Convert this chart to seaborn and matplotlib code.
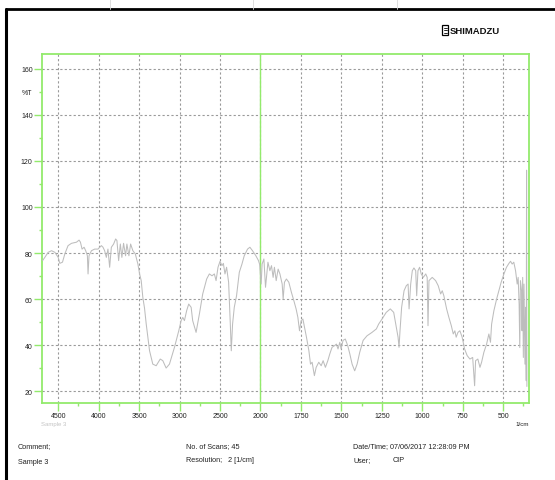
import numpy as np
import pandas as pd
import matplotlib
matplotlib.use("Agg")
import matplotlib.pyplot as plt
import seaborn as sns
from matplotlib.ticker import FixedLocator, FixedFormatter
from matplotlib.patches import Rectangle
from matplotlib.lines import Line2D

# ---------------- data ----------------
wavenumber = [
    4693, 4665, 4624, 4582, 4541, 4500, 4480, 4447, 4418, 4378, 4336, 4274, 4242, 4225,
    4205, 4180, 4160, 4139, 4131, 4119, 4089, 4049, 4008, 3987, 3966, 3946, 3926, 3905,
    3885, 3864, 3843, 3815, 3790, 3774, 3753, 3732, 3713, 3692, 3667, 3651, 3626, 3605,
    3577, 3547, 3515, 3494, 3474, 3454, 3433, 3412, 3371, 3331, 3289, 3239, 3207, 3166,
    3125, 3063, 3010, 2981, 2960, 2940, 2912, 2887, 2857, 2838, 2796, 2755, 2714, 2665,
    2632, 2599, 2570, 2549, 2525, 2500, 2476, 2459, 2439, 2419, 2394, 2373, 2361, 2345,
    2324, 2296, 2262, 2229, 2201, 2160, 2131, 2099, 2057, 2025, 2010, 2004, 1996, 1990,
    1979, 1969, 1954, 1942, 1932, 1922, 1914, 1903, 1891, 1880, 1866, 1860, 1852, 1840,
    1825, 1809, 1794, 1780, 1769, 1759, 1749, 1738, 1728, 1716, 1701, 1691, 1681, 1667,
    1656, 1640, 1625, 1613, 1599, 1584, 1572, 1558, 1543, 1531, 1521, 1510, 1502, 1490,
    1476, 1461, 1448, 1434, 1418, 1403, 1387, 1366, 1342, 1311, 1284, 1270, 1249, 1223,
    1198, 1177, 1161, 1150, 1144, 1138, 1128, 1113, 1099, 1088, 1082, 1072, 1062, 1052,
    1041, 1035, 1027, 1017, 1007, 994, 979, 970, 965, 959, 939, 918, 902, 887,
    877, 867, 850, 836, 821, 809, 799, 791, 780, 768, 754, 739, 723, 706,
    689, 677, 671, 657, 644, 634, 620, 603, 589, 579, 572, 558, 541, 527,
    513, 496, 480, 465, 455, 445, 435, 424, 414, 408, 402, 398, 394, 387,
    384, 380, 376, 372, 366, 362, 358, 356, 354,
]
transmittance = [
    76.7, 78.1, 80.3, 81.0, 80.3, 78.1, 75.5, 76.0, 79.6, 83.2, 84.2, 84.7, 85.6, 84.7,
    81.7, 82.5, 81.0, 78.8, 70.9, 78.8, 81.0, 81.7, 81.7, 82.5, 83.2, 82.5, 81.0, 78.1,
    81.7, 73.8, 82.5, 83.9, 86.1, 85.4, 76.7, 83.9, 78.1, 84.2, 78.8, 83.9, 78.8, 83.9,
    81.0, 79.6, 75.2, 70.9, 68.0, 60.7, 56.0, 49.1, 37.5, 31.7, 31.0, 33.9, 33.2, 30.0,
    31.7, 39.0, 46.2, 50.6, 52.0, 50.6, 55.0, 57.8, 56.4, 50.6, 45.5, 53.5, 62.2, 68.7,
    70.9, 70.1, 70.9, 68.0, 73.8, 76.4, 74.5, 75.5, 70.9, 73.8, 67.3, 49.1, 37.5, 49.1,
    56.4, 61.4, 71.6, 75.2, 78.8, 81.7, 82.5, 81.0, 78.8, 76.7, 75.0, 72.3, 66.5, 75.2,
    77.4, 65.1, 76.0, 72.3, 74.5, 69.4, 73.8, 68.0, 73.0, 70.9, 66.5, 60.0, 67.3, 68.7,
    67.3, 62.9, 59.3, 55.7, 52.0, 46.2, 50.6, 51.3, 47.7, 43.4, 37.5, 31.7, 32.5, 26.7,
    30.3, 32.5, 31.0, 33.2, 30.3, 33.2, 36.1, 39.0, 39.7, 40.4, 38.3, 41.2, 38.3, 42.0,
    42.6, 39.7, 36.1, 31.7, 28.8, 31.7, 36.8, 42.0, 44.0, 45.5, 47.0, 49.1, 51.3, 54.2,
    55.7, 54.2, 47.7, 43.4, 39.0, 46.2, 56.4, 63.6, 65.8, 66.5, 55.7, 66.5, 72.3, 73.5,
    72.3, 61.4, 72.3, 73.8, 70.9, 69.4, 70.9, 69.4, 48.4, 68.0, 69.4, 68.0, 65.8, 62.2,
    63.6, 61.4, 55.7, 52.0, 48.4, 44.8, 46.2, 43.4, 45.5, 46.2, 43.4, 38.3, 35.4, 33.9,
    34.6, 22.3, 33.2, 33.9, 30.3, 32.5, 36.8, 40.4, 44.8, 41.2, 49.1, 54.9, 60.0, 63.6,
    67.3, 70.9, 73.8, 75.5, 76.4, 75.2, 76.0, 72.3, 66.5, 69.4, 57.8, 38.9, 68.0, 63.6,
    46.2, 69.4, 34.6, 66.5, 31.7, 56.4, 24.5, 116.0, 22.0,
]

x_major = [4500, 4000, 3500, 3000, 2500, 2000, 1750, 1500, 1250, 1000, 750, 500]
x_minor = [4250, 3750, 3250, 2750, 2250, 1875, 1625, 1375, 1125, 875, 625, 375]
y_major = [20, 40, 60, 80, 100, 120, 140, 160]
y_minor = [30, 50, 70, 90, 110, 130, 150]
y_minor_labels = ["", "", "", "", "", "", "%T"]

# ---------------- style ----------------
sns.set_theme(style="white")
plt.rcParams["font.family"] = ["Liberation Sans", "DejaVu Sans"]

GREEN = "#93ea6c"
GRID = "#9a9a9a"
TRACE = "#bdbdbd"

W, H = 555, 481
fig = plt.figure(figsize=(W / 100, H / 100), dpi=100)
fig.patch.set_facecolor("white")


def P(x, y):
    return x / W, 1 - y / H


L, R, T, B = 42, 529, 55, 404
ax = fig.add_axes([L / W, 1 - B / H, (R - L) / W, (B - T) / H])


def fwd(x):
    x = np.asarray(x, float)
    return np.where(x >= 2000, x - 2000, 2 * (x - 2000))


def inv(y):
    y = np.asarray(y, float)
    return np.where(y >= 0, y + 2000, y / 2 + 2000)


ax.set_xscale("function", functions=(fwd, inv))

df = pd.DataFrame({"wn": wavenumber, "T": transmittance})
sns.lineplot(data=df, x="wn", y="T", sort=False, estimator=None,
             color=TRACE, lw=0.75, ax=ax, zorder=3)

ax.set_xlim(4700, 341)
ax.set_ylim(14.8, 166.5)
ax.set_xlabel("")
ax.set_ylabel("")

ax.xaxis.set_major_locator(FixedLocator(x_major))
ax.xaxis.set_major_formatter(FixedFormatter([str(v) for v in x_major]))
ax.xaxis.set_minor_locator(FixedLocator(x_minor))
ax.xaxis.set_minor_formatter(FixedFormatter([""] * len(x_minor)))
ax.yaxis.set_major_locator(FixedLocator(y_major))
ax.yaxis.set_major_formatter(FixedFormatter([str(v) for v in y_major]))
ax.yaxis.set_minor_locator(FixedLocator(y_minor))
ax.yaxis.set_minor_formatter(FixedFormatter(y_minor_labels))

ax.tick_params(which="major", direction="out", length=5.5, width=1.0,
               color=GREEN, labelsize=5, pad=1.2, labelcolor="#222222")
ax.tick_params(which="minor", direction="out", length=2.5, width=1.0,
               color=GREEN, labelsize=5, pad=1.2, labelcolor="#222222")
ax.tick_params(axis="y", which="minor", pad=4.2)
ax.tick_params(axis="x", which="both", bottom=True, top=False)
ax.tick_params(axis="y", which="both", left=True, right=False)

ax.grid(which="major", color=GRID, linestyle=(0, (2, 2)), linewidth=0.8)
ax.grid(which="minor", visible=False)
ax.axvline(2000, color=GREEN, lw=1.0, zorder=2)

for s in ax.spines.values():
    s.set_visible(True)
    s.set_color(GREEN)
    s.set_linewidth(1.3)

# ---------------- page decorations ----------------
fig.add_artist(Line2D([6 / W, 6 / W], [0, 1 - 10 / H], color="black", lw=2.2))
fig.add_artist(Line2D([6 / W, 1], [1 - 10 / H, 1 - 10 / H], color="black", lw=2.0))
for xv in (110, 253, 397):
    fig.add_artist(Line2D([xv / W, xv / W], [1 - 10 / H, 1], color="#d8d8d8", lw=0.6))

# logo
fig.add_artist(Rectangle(P(442, 36), 6 / W, 10 / H, fill=False, ec="black", lw=0.9))
for yy in (28.5, 31, 33.5):
    fig.add_artist(Line2D([443.5 / W, 446.5 / W], [1 - yy / H] * 2, color="black", lw=0.6))
fig.text(*P(450, 31), "SHIMADZU", fontsize=6.8, fontweight="bold",
         ha="left", va="center", color="#111111")

fig.text(*P(41, 424.5), "Sample 3", fontsize=4.3, color="#c4c4c4", ha="left", va="center")
fig.text(*P(529, 424), "1/cm", fontsize=4.5, color="#222222", ha="right", va="center")

fs = 5.2
fig.text(*P(18, 447), "Comment;", fontsize=fs, ha="left", va="center", color="#222222")
fig.text(*P(18, 462), "Sample 3", fontsize=fs, ha="left", va="center", color="#222222")
fig.text(*P(186, 447), "No. of Scans; 45", fontsize=fs, ha="left", va="center", color="#222222")
fig.text(*P(186, 461), "Resolution;   2 [1/cm]", fontsize=fs, ha="left", va="center", color="#222222")
fig.text(*P(353, 447), "Date/Time; 07/06/2017 12:28:09 PM", fontsize=fs, ha="left", va="center", color="#222222")
fig.text(*P(353, 461), "User;", fontsize=fs, ha="left", va="center", color="#222222")
fig.text(*P(393, 461), "CIP", fontsize=fs, ha="left", va="center", color="#222222")

fig.savefig("out.png", dpi=100, facecolor="white")
